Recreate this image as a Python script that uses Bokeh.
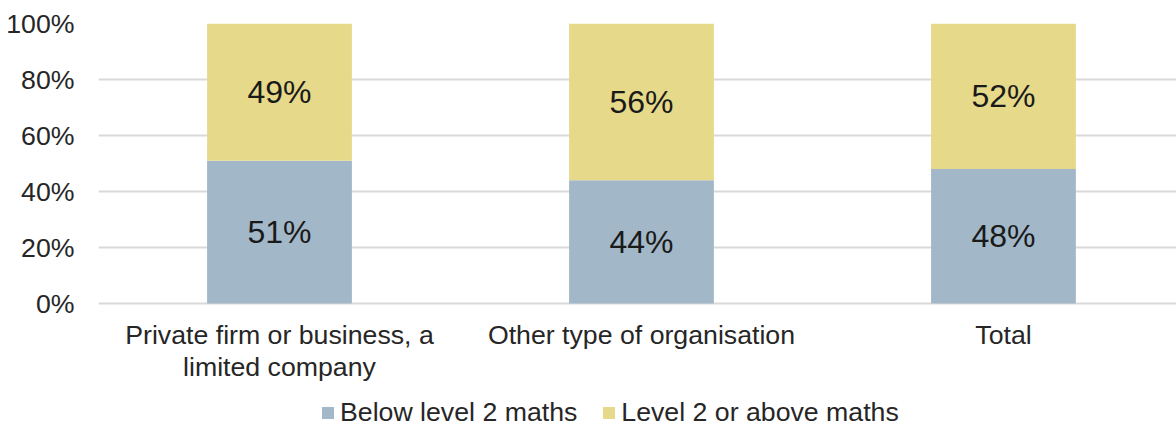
from bokeh.plotting import figure
from bokeh.models import ColumnDataSource, FixedTicker, Legend, LegendItem, NumeralTickFormatter, Range1d, LabelSet
from bokeh.embed import file_html
from bokeh.resources import INLINE
from bokeh.core.properties import value

categories = ["Private firm or business, a\nlimited company", "Other type of organisation", "Total"]
below_l2 = [51, 44, 48]
l2_above = [49, 56, 52]
series_names = ["Below level 2 maths", "Level 2 or above maths"]
colors = ["#A2B8C8", "#E6D98A"]
y_ticks = [0, 20, 40, 60, 80, 100]

xs = list(range(len(categories)))
src = ColumnDataSource(dict(
    x=xs,
    b=[v / 100 for v in below_l2],
    t=[(a + b) / 100 for a, b in zip(below_l2, l2_above)],
    bmid=[v / 200 for v in below_l2],
    tmid=[(a + b / 2) / 100 for a, b in zip(below_l2, l2_above)],
    blab=[f"{v}%" for v in below_l2],
    tlab=[f"{v}%" for v in l2_above],
))
cat_src = ColumnDataSource(dict(x=xs, y=[-16 / 280] * len(xs), text=categories))

FONT = "Liberation Sans"
PX = 1 / 280  # one pixel in data units (frame: 0..1 spans 280 px)
p = figure(output_backend="svg", toolbar_location=None,
           frame_width=1078, frame_height=404,
           x_range=Range1d(-0.5, 2.478), y_range=Range1d(-124 * PX, 1),
           x_axis_location=None,
           min_border_left=98, min_border_top=23, min_border_right=0, min_border_bottom=0)
p.outline_line_color = None
p.background_fill_color = "white"

r1 = p.vbar(x="x", bottom=0, top="b", width=0.4, fill_color=colors[0], line_color=None, source=src)
r2 = p.vbar(x="x", bottom="b", top="t", width=0.4, fill_color=colors[1], line_color=None, source=src)

for y, lab in (("bmid", "blab"), ("tmid", "tlab")):
    ls = LabelSet(x="x", y=y, text=lab, source=src, text_align="center", text_baseline="middle",
                  text_font=value(FONT), text_font_size="32px", text_color="#1a1a1a")
    p.add_layout(ls)

p.text(x="x", y="y", text="text", source=cat_src, text_align="center", text_baseline="top",
       text_font=value(FONT), text_font_size="26.7px", text_line_height=1.08, text_color="#262626")

p.yaxis.ticker = FixedTicker(ticks=[v / 100 for v in y_ticks])
p.yaxis.formatter = NumeralTickFormatter(format="0%")
p.yaxis.axis_line_color = None
p.yaxis.major_tick_line_color = None
p.yaxis.minor_tick_line_color = None
p.yaxis.major_label_text_font = FONT
p.yaxis.major_label_text_font_size = "26.7px"
p.yaxis.major_label_text_color = "#262626"
p.yaxis.major_label_standoff = 18

p.xgrid.grid_line_color = None
p.ygrid.grid_line_color = "#D9D9D9"
p.ygrid.grid_line_width = 2

legend = Legend(items=[LegendItem(label=series_names[0], renderers=[r1]),
                       LegendItem(label=series_names[1], renderers=[r2])],
                orientation="horizontal", location=(222, -1),
                label_text_font=FONT, label_text_font_size="26.7px", label_text_color="#262626",
                glyph_width=15, glyph_height=15, label_standoff=5, spacing=24,
                border_line_color=None, background_fill_alpha=0, padding=2, margin=0)
p.add_layout(legend, "center")

open("out.html", "w").write(file_html(p, INLINE))
